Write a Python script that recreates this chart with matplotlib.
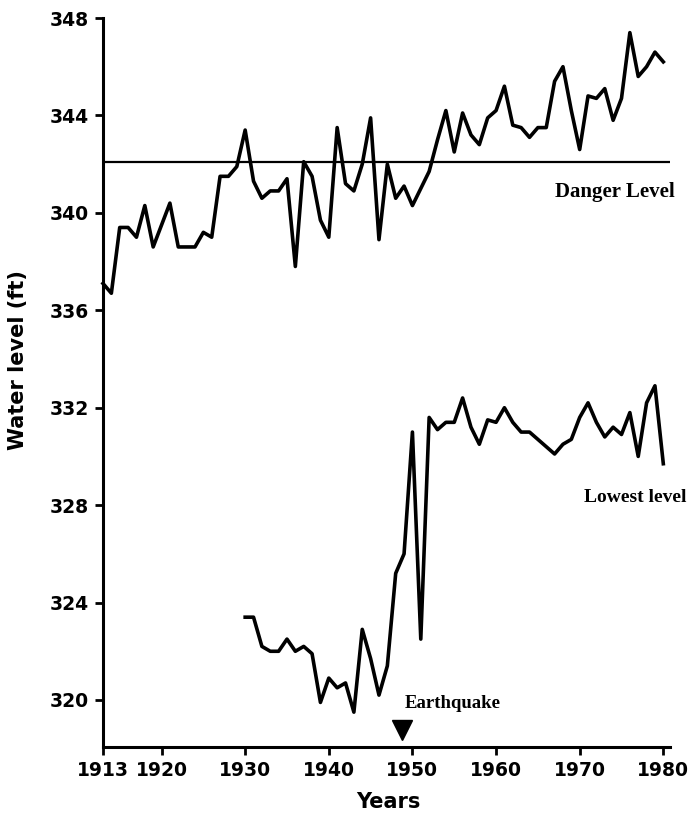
import matplotlib
matplotlib.use("Agg")
import matplotlib.pyplot as plt
import numpy as np

# ---- data ----
upper_years = list(range(1913, 1981))
upper_levels = [337.1, 336.7, 339.4, 339.4, 339.0, 340.3, 338.6, 339.5, 340.4, 338.6,
                338.6, 338.6, 339.2, 339.0, 341.5, 341.5, 341.9, 343.4, 341.3, 340.6,
                340.9, 340.9, 341.4, 337.8, 342.1, 341.5, 339.7, 339.0, 343.5, 341.2,
                340.9, 342.0, 343.9, 338.9, 342.0, 340.6, 341.1, 340.3, 341.0, 341.7,
                343.0, 344.2, 342.5, 344.1, 343.2, 342.8, 343.9, 344.2, 345.2, 343.6,
                343.5, 343.1, 343.5, 343.5, 345.4, 346.0, 344.2, 342.6, 344.8, 344.7,
                345.1, 343.8, 344.7, 347.4, 345.6, 346.0, 346.6, 346.2]

lower_years = list(range(1930, 1981))
lower_levels = [323.4, 323.4, 322.2, 322.0, 322.0, 322.5, 322.0, 322.2, 321.9, 319.9,
                320.9, 320.5, 320.7, 319.5, 322.9, 321.7, 320.2, 321.4, 325.2, 326.0,
                331.0, 322.5, 331.6, 331.1, 331.4, 331.4, 332.4, 331.2, 330.5, 331.5,
                331.4, 332.0, 331.4, 331.0, 331.0, 330.7, 330.4, 330.1, 330.5, 330.7,
                331.6, 332.2, 331.4, 330.8, 331.2, 330.9, 331.8, 330.0, 332.2, 332.9,
                329.7]

danger_level = 342.1
x_ticks = [1913, 1920, 1930, 1940, 1950, 1960, 1970, 1980]
y_ticks = [320, 324, 328, 332, 336, 340, 344, 348]

# ---- figure ----
W, H = 696, 815
fig = plt.figure(figsize=(W / 100, H / 100), dpi=100)
ax = fig.add_axes([103 / W, 1 - 747 / H, (670 - 103) / W, (747 - 18) / H])

ax.plot(upper_years, upper_levels, color="black", lw=2.6, clip_on=False)
ax.plot(lower_years, lower_levels, color="black", lw=2.6, clip_on=False)
ax.hlines(danger_level, 1913, 1980.8, color="black", lw=1.6)

ax.set_xlim(1913, 1980.8)
ax.set_ylim(318.07, 348)

for s in ["top", "right"]:
    ax.spines[s].set_visible(False)
for s in ["left", "bottom"]:
    ax.spines[s].set_linewidth(2.2)

ax.set_xticks(x_ticks)
ax.set_yticks(y_ticks)
ax.tick_params(axis="both", direction="out", length=6, width=2.0, pad=4,
               labelsize=13.5)
for lab in ax.get_xticklabels() + ax.get_yticklabels():
    lab.set_fontweight("bold")

fig.text(18 / W, 1 - 360 / H, "Water level (ft)", rotation=90, ha="center",
         va="center", fontsize=15, fontweight="bold")
fig.text(388 / W, 1 - 802 / H, "Years", ha="center", va="center",
         fontsize=15, fontweight="bold")

serif = ["Liberation Serif", "DejaVu Serif"]
fig.text(675 / W, 1 - 192 / H, "Danger Level", ha="right", va="center",
         fontsize=15, fontweight="bold", family=serif)
fig.text(687 / W, 1 - 497 / H, "Lowest level", ha="right", va="center",
         fontsize=14, fontweight="bold", family=serif)
fig.text(405 / W, 1 - 703 / H, "Earthquake", ha="left", va="center",
         fontsize=13.5, fontweight="bold", family=serif)

ax.plot([1948.8], [318.75], marker="v", markersize=15, color="black",
        clip_on=False)

fig.savefig("out.png", dpi=100)
